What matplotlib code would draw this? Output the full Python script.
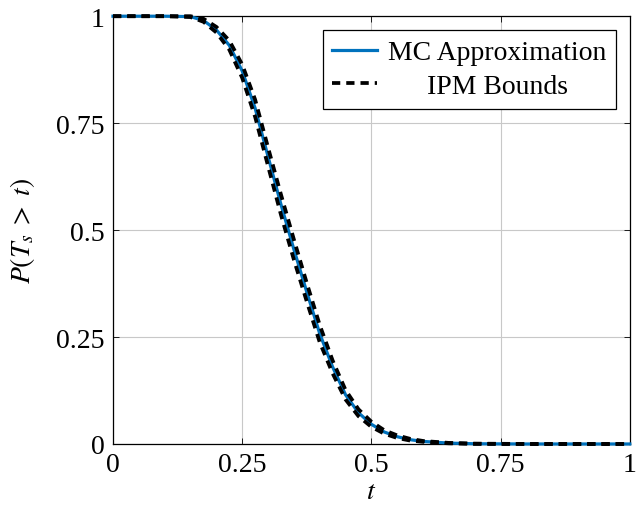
import matplotlib
matplotlib.use("Agg")
import matplotlib.pyplot as plt

plt.rcParams["font.family"] = ["Liberation Serif", "DejaVu Serif"]
plt.rcParams["mathtext.fontset"] = "stix"
plt.rcParams["font.size"] = 20

# survival curve P(T_s > t)
t_vals = [0, 0.1, 0.15, 0.175, 0.2, 0.225, 0.25, 0.275, 0.3, 0.325, 0.35, 0.375,
          0.4, 0.425, 0.45, 0.475, 0.5, 0.525, 0.55, 0.575, 0.6, 0.65, 0.7, 0.8, 1.0]
mc_vals = [1, 1, 0.999, 0.99, 0.968, 0.932, 0.872, 0.785, 0.672, 0.56, 0.455, 0.355,
           0.258, 0.18, 0.115, 0.073, 0.046, 0.028, 0.017, 0.010, 0.006, 0.002, 0.0005, 0, 0]
ipm_lower = [1, 1, 0.998, 0.987, 0.962, 0.922, 0.856, 0.765, 0.65, 0.536, 0.431, 0.333,
             0.238, 0.165, 0.104, 0.065, 0.04, 0.024, 0.014, 0.008, 0.005, 0.0015, 0.0003, 0, 0]
ipm_upper = [1, 1, 1, 0.994, 0.975, 0.943, 0.887, 0.805, 0.693, 0.583, 0.478, 0.376,
             0.278, 0.195, 0.126, 0.081, 0.052, 0.032, 0.020, 0.012, 0.007, 0.0025, 0.0008, 0, 0]

ticks = [0, 0.25, 0.5, 0.75, 1]
tick_labels = ["0", "0.25", "0.5", "0.75", "1"]

fig = plt.figure(figsize=(6.42, 5.06), dpi=100)
ax = fig.add_axes([0.176, 0.1206, 0.805, 0.8454])

ax.plot(t_vals, mc_vals, color="#0072bd", lw=2.3, label="MC Approximation", clip_on=False, zorder=3)
dash = (0, (2.2, 1.6))
ax.plot(t_vals, ipm_lower, color="black", lw=2.7, ls=dash, label="IPM Bounds", clip_on=False, zorder=4)
ax.plot(t_vals, ipm_upper, color="black", lw=2.7, ls=dash, clip_on=False, zorder=4)

ax.set_xlim(0, 1)
ax.set_ylim(0, 1)
ax.set_xticks(ticks)
ax.set_xticklabels(tick_labels)
ax.set_yticks(ticks)
ax.set_yticklabels(tick_labels)
ax.tick_params(direction="in", length=4, width=0.6, top=True, right=True, pad=6)
ax.grid(True, color="#c8c8c8", lw=0.8)
ax.set_axisbelow(True)
for s in ax.spines.values():
    s.set_linewidth(0.9)

ax.set_xlabel("$t$", labelpad=1)
ax.set_ylabel(r"$P(T_s\;>\;t)$")
ax.yaxis.set_label_coords(-0.148, 0.5)

leg = ax.legend(loc="upper right", fancybox=False, edgecolor="black", framealpha=1,
                borderaxespad=0.5, handlelength=1.6, handletextpad=0.4,
                borderpad=0.35, labelspacing=0.3)
leg.get_frame().set_linewidth(0.9)

# centre the shorter legend entry like the reference
fig.canvas.draw()
renderer = fig.canvas.get_renderer()
widths = [tx.get_window_extent(renderer).width for tx in leg.get_texts()]
widest = max(widths)
for tx, w in zip(leg.get_texts(), widths):
    tx.set_position(((widest - w) / 2, 0))

fig.savefig("out.png", dpi=100)
